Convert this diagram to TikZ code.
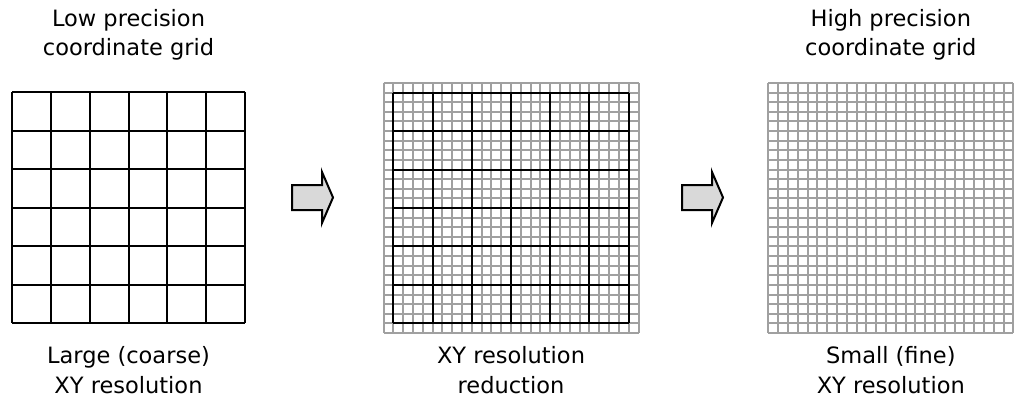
\documentclass[tikz,border=0pt]{standalone}
\usepackage{fontspec}
\setmainfont{DejaVu Sans}
\definecolor{fineline}{RGB}{160,160,160}
\definecolor{arrowfill}{RGB}{217,217,217}
\tikzset{
  lbl/.style={align=center, anchor=base, inner sep=0pt,
              font=\fontsize{22.5}{29.5}\selectfont},
  coarse/.style={line width=2pt, draw=black},
  fine/.style={line width=2pt, draw=fineline},
  blockarrow/.style={line width=2pt, draw=black, fill=arrowfill, line join=miter},
}
\begin{document}
\begin{tikzpicture}[x=1pt, y=-1pt]
  \useasboundingbox (0,0) rectangle (1015,412);

  % left: coarse 6x6 grid
  \foreach \i in {0,...,6} {
    \draw[coarse] ({12+\i*233/6},92) -- ({12+\i*233/6},323);
    \draw[coarse] (12,{92+\i*231/6}) -- (245,{92+\i*231/6});
  }

  % middle: fine 26x26 grid with the coarse grid on top
  \foreach \i in {0,...,26} {
    \draw[fine] ({383.5+\i*255/26},83) -- ({383.5+\i*255/26},333);
    \draw[fine] (383.5,{83+\i*250/26}) -- (638.5,{83+\i*250/26});
  }
  \foreach \i in {0,...,6} {
    \draw[coarse] ({383.5+(\i*4+1)*255/26},{83+250/26}) -- ({383.5+(\i*4+1)*255/26},{83+25*250/26});
    \draw[coarse] ({383.5+255/26},{83+(\i*4+1)*250/26}) -- ({383.5+25*255/26},{83+(\i*4+1)*250/26});
  }

  % right: fine 25x26 grid
  \foreach \i in {0,...,25} {
    \draw[fine] ({768.3+\i*9.8},83) -- ({768.3+\i*9.8},333);
  }
  \foreach \i in {0,...,26} {
    \draw[fine] (768.3,{83+\i*250/26}) -- (1013.3,{83+\i*250/26});
  }

  % block arrows between the grids
  \foreach \dx in {0,390} {
    \draw[blockarrow] ({292+\dx},185) -- ({322+\dx},185) -- ({322+\dx},172)
      -- ({333+\dx},197.5) -- ({322+\dx},223) -- ({322+\dx},210) -- ({292+\dx},210) -- cycle;
  }

  % labels (anchored on the baseline of their last line)
  \node[lbl] (lowtop) at (128.5,56) {Low precision\\coordinate grid};
  \node[lbl] (lowbot) at (128.5,393) {Large (coarse)\\XY resolution};
  \node[lbl] (midbot) at (511,393) {XY resolution\\reduction};
  \node[lbl] (hightop) at (890.8,56) {High precision\\coordinate grid};
  \node[lbl] (highbot) at (890.8,393) {Small (fine)\\XY resolution};
\end{tikzpicture}
\end{document}
